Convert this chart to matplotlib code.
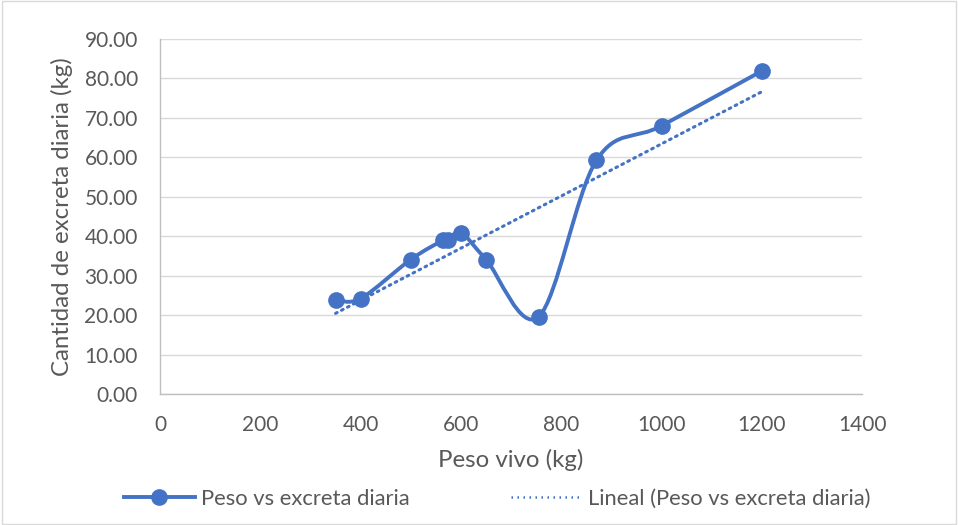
import matplotlib
matplotlib.use("Agg")
import matplotlib.pyplot as plt
from matplotlib.path import Path
from matplotlib.patches import PathPatch, Rectangle
from matplotlib.lines import Line2D
import numpy as np

# data
peso_vivo = [350, 400, 500, 565, 575, 600, 650, 755, 870, 1000, 1200]
excreta = [23.9, 24.2, 34.1, 39.0, 39.0, 40.9, 34.1, 19.6, 59.2, 68.0, 81.9]
x_ticks = [0, 200, 400, 600, 800, 1000, 1200, 1400]
y_ticks = [0, 10, 20, 30, 40, 50, 60, 70, 80, 90]

blue = '#4472C4'
plt.rcParams['font.family'] = ['Lato', 'DejaVu Sans']

fig = plt.figure(figsize=(9.58, 5.25), dpi=100)
ax = fig.add_axes([0.167, 0.2495, 0.733, 0.6762])

# excel style smoothed line (catmull-rom -> cubic bezier)
xs = np.array(peso_vivo, dtype=float)
ys = np.array(excreta, dtype=float)
pts = np.column_stack([xs, ys])
verts = [pts[0]]
codes = [Path.MOVETO]
n = len(pts)
for i in range(n - 1):
    p0 = pts[i - 1] if i > 0 else pts[i]
    p1 = pts[i]
    p2 = pts[i + 1]
    p3 = pts[i + 2] if i + 2 < n else pts[i + 1]
    c1 = p1 + (p2 - p0) / 6.0
    c2 = p2 - (p3 - p1) / 6.0
    verts += [c1, c2, p2]
    codes += [Path.CURVE4] * 3
ax.add_patch(PathPatch(Path(verts, codes), facecolor='none', edgecolor=blue,
                       lw=2.8, zorder=3, capstyle='round', joinstyle='round'))
ax.plot(xs, ys, linestyle='none', marker='o', ms=11, color=blue, zorder=4)

# linear trendline
m, b = np.polyfit(xs, ys, 1)
tx = np.array([xs.min(), xs.max()])
ax.plot(tx, m * tx + b, linestyle=(0, (0.6, 1.6)), lw=2.2, color=blue,
        dash_capstyle='round', zorder=2)

ax.set_xlim(0, 1400)
ax.set_ylim(0, 90)
ax.set_xticks(x_ticks)
ax.set_yticks(y_ticks)
ax.set_yticklabels([f"{v:.2f}" for v in y_ticks])
ax.tick_params(axis='y', length=0, labelsize=15, colors='#595959', pad=16)
ax.tick_params(axis='x', length=0, labelsize=15, colors='#595959', pad=15)
ax.grid(axis='y', color='#d9d9d9', lw=1)
ax.set_axisbelow(True)
for s in ['top', 'right']:
    ax.spines[s].set_visible(False)
for s in ['left', 'bottom']:
    ax.spines[s].set_color('#bfbfbf')
    ax.spines[s].set_linewidth(1)

ax.set_xlabel('Peso vivo (kg)', fontsize=17.3, color='#595959', labelpad=10)
ax.set_ylabel('Cantidad de excreta diaria (kg)', fontsize=17.3, color='#595959', labelpad=8)

handles = [
    Line2D([], [], color=blue, lw=2.8, marker='o', ms=11),
    Line2D([], [], color=blue, lw=1.8, linestyle=(0, (0.6, 1.8))),
]
fig.legend(handles, ['Peso vs excreta diaria', 'Lineal (Peso vs excreta diaria)'],
           loc='center', bbox_to_anchor=(0.519, 0.05), ncol=2, frameon=False,
           fontsize=15.8, labelcolor='#595959', handlelength=3.2, handletextpad=0.3,
           columnspacing=4.6)

fig.patches.append(Rectangle((0.002, 0.002), 0.996, 0.996, transform=fig.transFigure,
                             fill=False, edgecolor='#d9d9d9', lw=1))

fig.savefig('out.png', dpi=100)
